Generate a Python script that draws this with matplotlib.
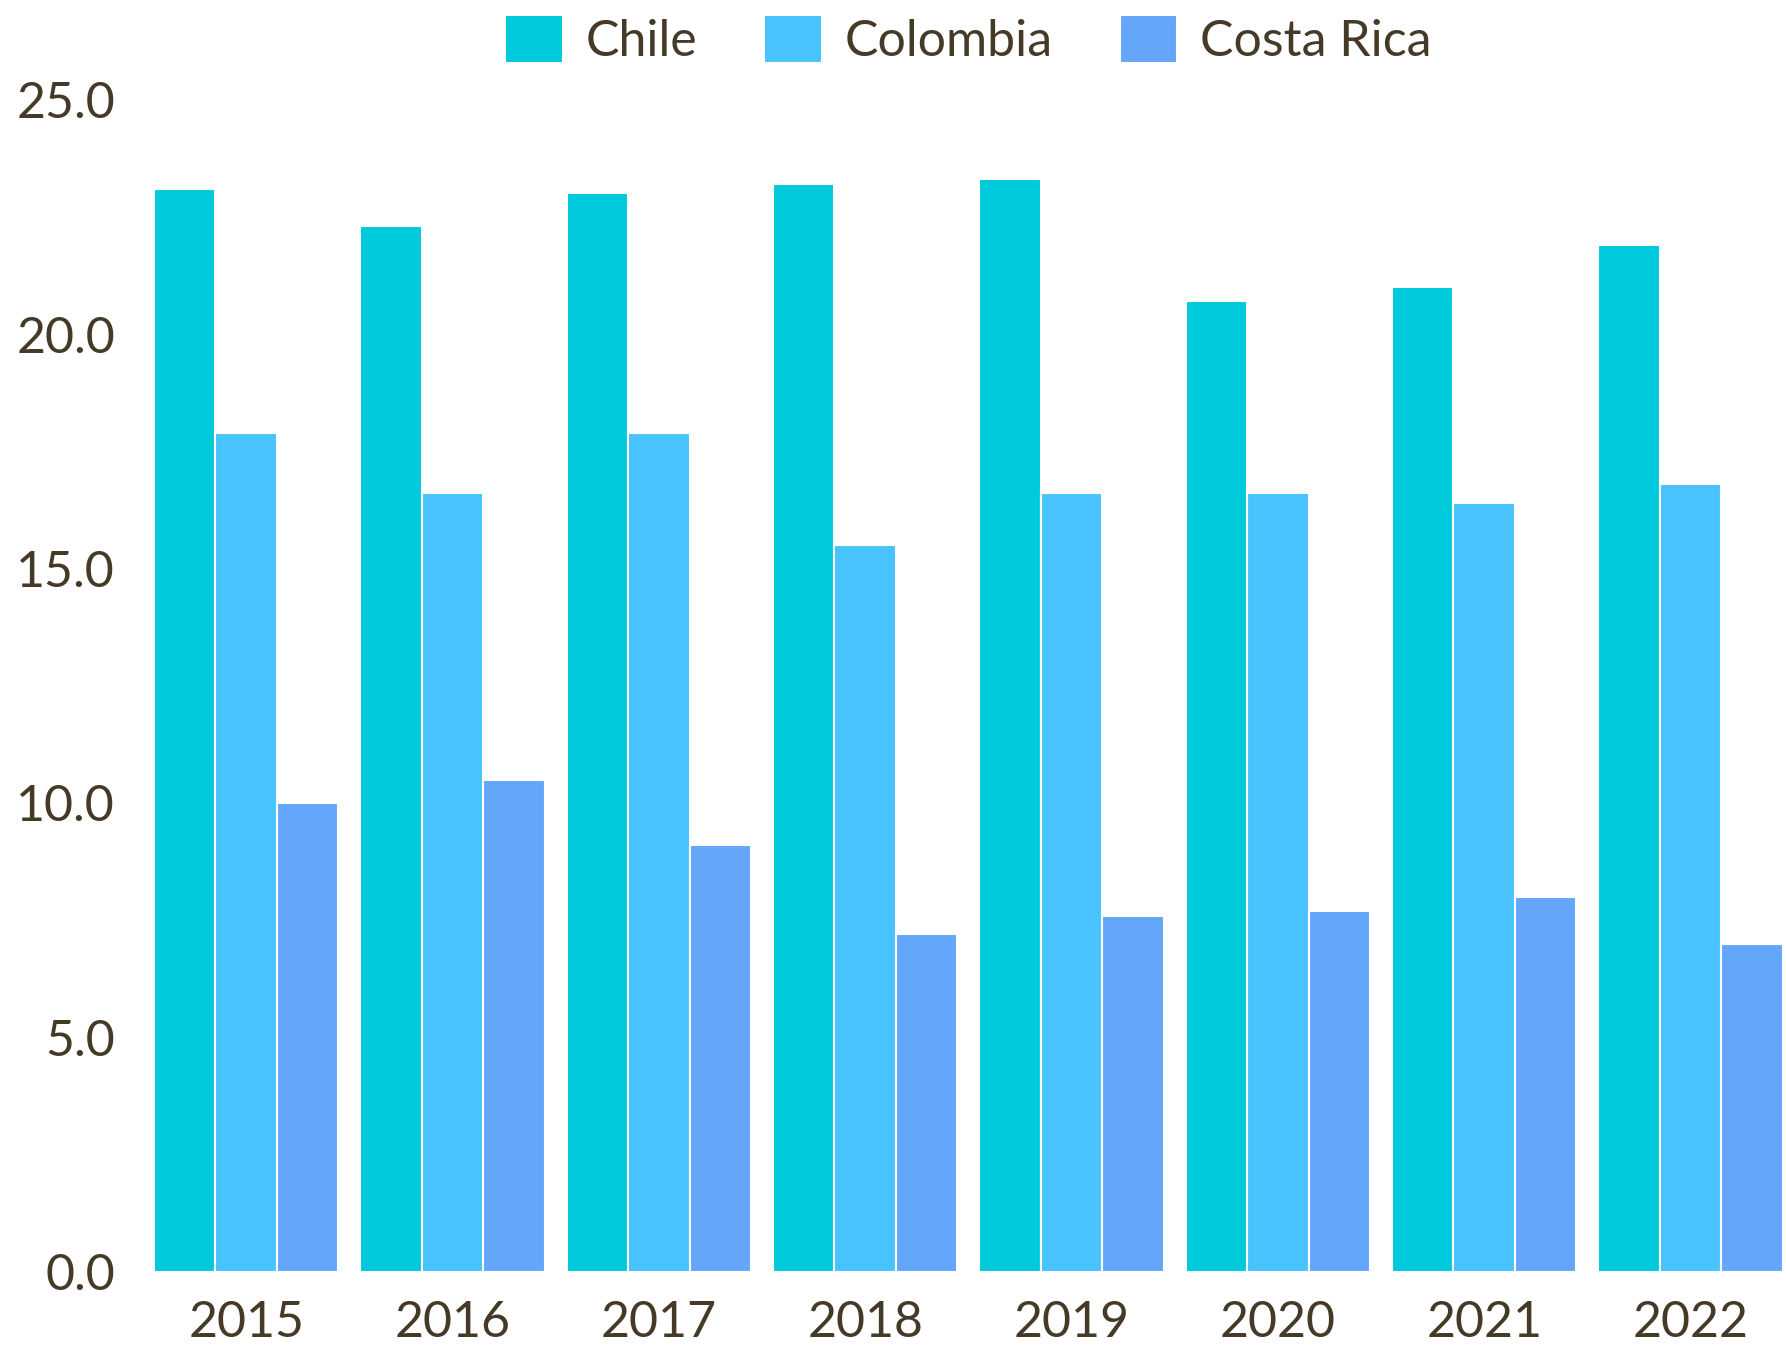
import matplotlib.pyplot as plt
import numpy as np

years = ["2015", "2016", "2017", "2018", "2019", "2020", "2021", "2022"]
chile = [23.1, 22.3, 23.0, 23.2, 23.3, 20.7, 21.0, 21.9]
colombia = [17.9, 16.6, 17.9, 15.5, 16.6, 16.6, 16.4, 16.8]
costa_rica = [10.0, 10.5, 9.1, 7.2, 7.6, 7.7, 8.0, 7.0]

series = [("Chile", chile, "#00C9DB"),
          ("Colombia", colombia, "#48C3FD"),
          ("Costa Rica", costa_rica, "#64A6FA")]

text_color = "#453a28"
plt.rcParams['font.family'] = ['Lato', 'DejaVu Sans']

fig = plt.figure(figsize=(17.86, 13.45), dpi=100)
ax = fig.add_axes([0.0862, 0.0543, 0.912, 0.8717])

x = np.arange(len(years))
w = 0.298
for i, (name, vals, col) in enumerate(series):
    ax.bar(x + (i - 1) * w, vals, width=w, color=col, edgecolor="white",
           linewidth=1.5, label=name)

ax.set_xlim(-0.447, len(years) - 1 + 0.447)
ax.set_ylim(0, 25)
ax.set_yticks(np.arange(0, 25.1, 5))
ax.set_yticklabels([f"{v:.1f}" for v in np.arange(0, 25.1, 5)])
ax.set_xticks(x)
ax.set_xticklabels(years)
ax.tick_params(axis="both", length=0, labelsize=36, colors=text_color)
ax.tick_params(axis="y", pad=28)
ax.tick_params(axis="x", pad=20)
for s in ax.spines.values():
    s.set_visible(False)

# legend centred over the plot area, not the whole figure
leg = fig.legend(loc="center", bbox_to_anchor=(0.5422, 0.970), ncol=3,
                 frameon=False, fontsize=36, handlelength=1.15, handleheight=1.1,
                 handletextpad=0.45, columnspacing=1.35)
for t in leg.get_texts():
    t.set_color(text_color)

fig.savefig("out.png", dpi=100)
